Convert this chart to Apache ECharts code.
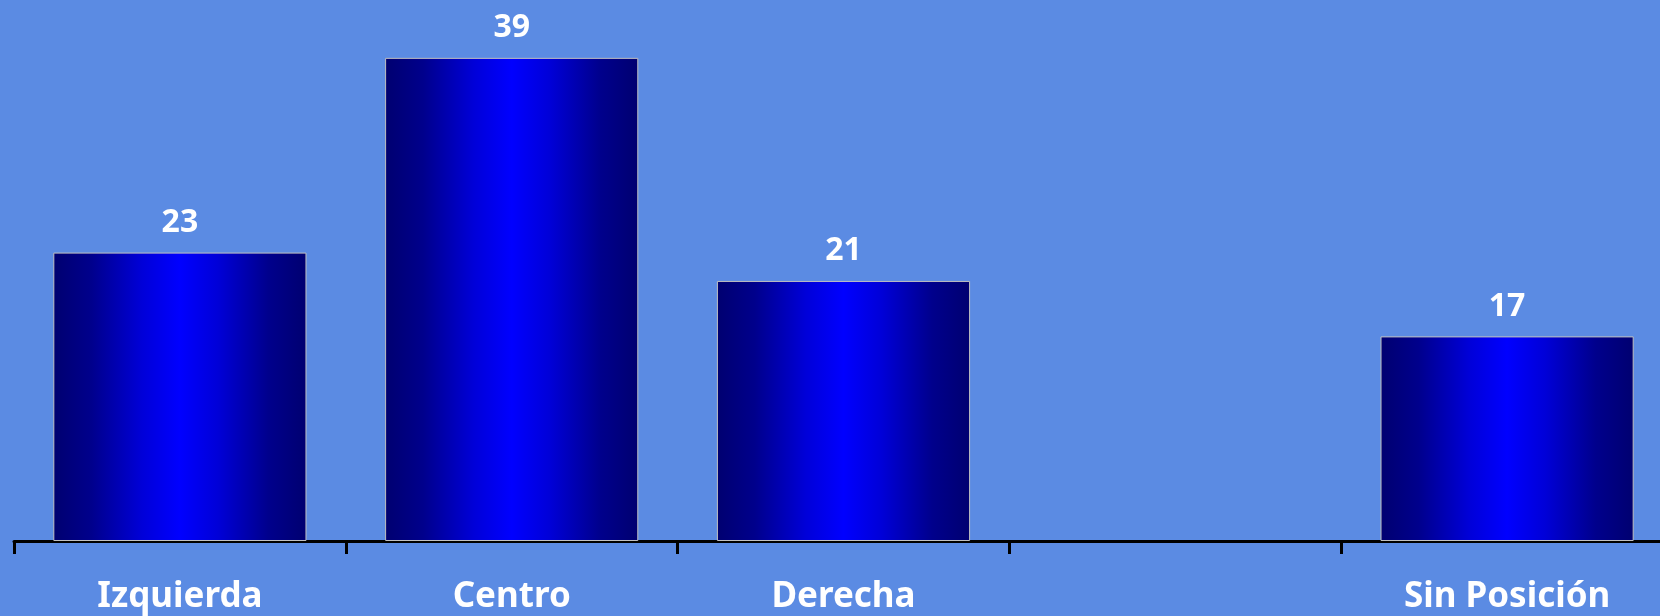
<!DOCTYPE html>
<html>
<head>
<meta charset="utf-8">
<style>
  html, body { margin: 0; padding: 0; background: #5b8be3; overflow: hidden; width: 1660px; height: 616px; }
  #chart { width: 1690px; height: 616px; }
</style>
<script src="https://cdn.jsdelivr.net/npm/echarts@6/dist/echarts.min.js"></script>
</head>
<body>
<div id="chart"></div>
<script>
const categories = ['Izquierda', 'Centro', 'Derecha', '', 'Sin Posición'];
const values = [23.4, 39.2, 21.1, '-', 16.6];

const chart = echarts.init(document.getElementById('chart'), null, { renderer: 'canvas' });

const barGradient = new echarts.graphic.LinearGradient(0, 0, 1, 0, [
  { offset: 0, color: '#000070' },
  { offset: 0.15, color: '#00008c' },
  { offset: 0.35, color: '#0000d8' },
  { offset: 0.5, color: '#0000ff' },
  { offset: 0.65, color: '#0000d8' },
  { offset: 0.85, color: '#00008c' },
  { offset: 1, color: '#000070' }
]);

chart.setOption({
  backgroundColor: '#5b8be3',
  animation: false,
  grid: { left: 14, width: 1659, top: 48, bottom: 75, containLabel: false },
  xAxis: {
    type: 'category',
    data: categories,
    boundaryGap: true,
    axisLine: { show: true, lineStyle: { color: '#000000', width: 3 } },
    axisTick: { show: true, alignWithLabel: false, length: 13, lineStyle: { color: '#000000', width: 3 } },
    axisLabel: {
      show: true,
      interval: 0,
      margin: 39,
      color: '#ffffff',
      fontFamily: 'Noto Sans',
      fontWeight: 'bold',
      fontSize: 35
    },
    splitLine: { show: false }
  },
  yAxis: {
    type: 'value',
    min: 0,
    max: 40,
    show: false
  },
  series: [{
    type: 'bar',
    data: values,
    barCategoryGap: '23.7%',
    itemStyle: {
      color: barGradient,
      borderColor: '#c0c0c0',
      borderWidth: 1
    },
    label: {
      show: true,
      position: 'top',
      distance: 14,
      color: '#ffffff',
      fontFamily: 'Noto Sans',
      fontWeight: 'bold',
      fontSize: 32,
      formatter: function (p) { return Math.round(p.value); }
    }
  }]
});
</script>
</body>
</html>
